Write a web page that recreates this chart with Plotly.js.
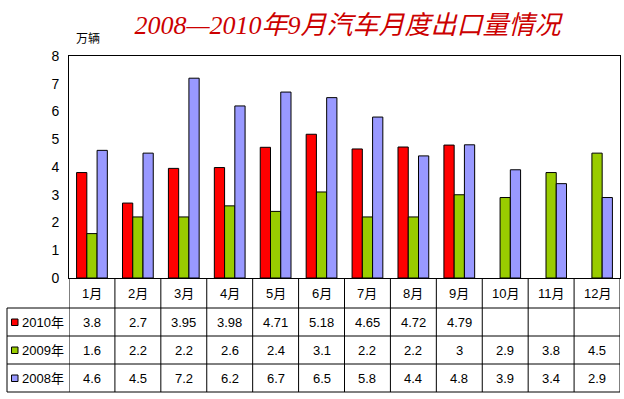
<!DOCTYPE html>
<html><head><meta charset="utf-8">
<script src="https://cdn.plot.ly/plotly-3.0.1.min.js"></script>
<style>body{margin:0;background:#fff}#c{width:624px;height:399px}</style>
</head><body><div id="c"></div>
<script>
const months = ['1月','2月','3月','4月','5月','6月','7月','8月','9月','10月','11月','12月'];
const seriesNames = ['2010年','2009年','2008年'];
const v2010 = [3.8,2.7,3.95,3.98,4.71,5.18,4.65,4.72,4.79,null,null,null];
const v2009 = [1.6,2.2,2.2,2.6,2.4,3.1,2.2,2.2,3,2.9,3.8,4.5];
const v2008 = [4.6,4.5,7.2,6.2,6.7,6.5,5.8,4.4,4.8,3.9,3.4,2.9];
const colors = ['#FF0000','#99CC00','#9999FF'];
const yTicks = [0,1,2,3,4,5,6,7,8];
const titleText = '2008—2010年9月汽车月度出口量情况';
const unitText = '万辆';

const allVals = [v2010, v2009, v2008];
const FONT = 'Liberation Sans, Arial, Noto Sans CJK SC, sans-serif';

const traces = allVals.map((vals, i) => ({
  type: 'bar', x: months, y: vals, name: seriesNames[i],
  marker: {color: colors[i], line: {color: '#000', width: 1}},
  hoverinfo: 'none'
}));

const H = 222, W = 551;
const py = p => (278 - p) / H;
const px = p => (p - 69) / W;
const rowLines = [308, 336, 364, 392].map(py);
const rowCenters = [293, 322, 350, 378].map(py);

const shapes = [];
const line = {color: '#000', width: 1};
rowLines.forEach((y) => {
  shapes.push({type: 'line', xref: 'paper', yref: 'paper',
    x0: px(7), x1: 1, y0: y, y1: y, line});
});
for (let i = 0; i <= months.length; i++) {
  shapes.push({type: 'line', xref: 'x', yref: 'paper',
    x0: i - 0.5, x1: i - 0.5, y0: 0, y1: rowLines[3], line});
}
shapes.push({type: 'line', xref: 'paper', yref: 'paper',
  x0: px(7), x1: px(7), y0: rowLines[0], y1: rowLines[3], line});

const annotations = [];
const tfont = {family: FONT, size: 13, color: '#000'};
months.forEach((m, i) => annotations.push({
  xref: 'x', yref: 'paper', x: i, y: rowCenters[0], yanchor: 'middle', xanchor: 'center',
  text: m, showarrow: false, font: tfont
}));
allVals.forEach((vals, r) => {
  const yc = rowCenters[r + 1];
  vals.forEach((v, i) => {
    if (v === null) return;
    annotations.push({xref: 'x', yref: 'paper', x: i, y: yc, yanchor: 'middle', xanchor: 'center',
      text: String(v), showarrow: false, font: tfont});
  });
  annotations.push({xref: 'paper', yref: 'paper', x: px(20), y: yc, xanchor: 'left', yanchor: 'middle',
    text: seriesNames[r], showarrow: false, font: tfont});
  shapes.push({type: 'rect', xref: 'paper', yref: 'paper',
    x0: px(11.5), x1: px(18), y0: yc - 3.5 / H, y1: yc + 3 / H,
    fillcolor: colors[r], line: {color: '#000', width: 1}});
});
annotations.push({xref: 'paper', yref: 'paper', x: px(88), y: py(39), xanchor: 'center', yanchor: 'middle',
  text: unitText, showarrow: false, font: {family: FONT, size: 12, color: '#000'}});

const layout = {
  width: 624, height: 399,
  margin: {l: 69, r: 4, t: 56, b: 121},
  paper_bgcolor: '#fff', plot_bgcolor: '#fff',
  showlegend: false,
  barmode: 'group', bargap: 0.33, bargroupgap: 0,
  title: {text: titleText, x: px(347.5), xref: 'paper', xanchor: 'center',
    y: 1 - 25 / 399, yref: 'container', yanchor: 'middle',
    font: {family: 'Liberation Serif, Times New Roman, Noto Sans CJK SC, serif', size: 26, color: '#CC0000', style: 'italic'}},
  xaxis: {type: 'category', categoryarray: months, showticklabels: false, ticks: '',
    showgrid: false, zeroline: false, showline: true, mirror: true, linecolor: '#000', linewidth: 1,
    range: [-0.5, 11.5], fixedrange: true},
  yaxis: {range: [0, 8], tickvals: yTicks, ticks: '', showgrid: false, zeroline: false,
    showline: true, mirror: true, linecolor: '#000', linewidth: 1, ticklabelstandoff: 6,
    tickfont: {family: FONT, size: 14, color: '#000'}, fixedrange: true},
  shapes, annotations
};

Plotly.newPlot('c', traces, layout, {staticPlot: true, displayModeBar: false});
</script></body></html>
